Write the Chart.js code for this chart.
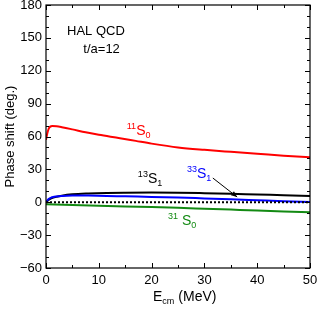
<!DOCTYPE html>
<html>
<head>
<meta charset="utf-8">
<script src="https://cdn.jsdelivr.net/npm/chart.js@4/dist/chart.umd.min.js"></script>
<style>
html,body{margin:0;padding:0;background:#fff;}
canvas{display:block;}
</style>
</head>
<body>
<canvas id="c" width="322" height="312"></canvas>
<script>
// ---- data ----
const energy11S0 = [0, 0.25, 0.5, 0.8, 1.2, 2, 3, 5, 7.5, 10, 14, 17, 20, 25, 30, 35, 40, 45, 50];
const phase11S0  = [57, 63, 67, 69, 69.5, 69.3, 68.5, 66.5, 63.8, 61.5, 58.5, 56, 53.5, 50, 47.8, 46, 44.3, 42.5, 41];

const energyS1 = [0, 0.5, 1, 2, 3, 5, 8, 11.5, 15, 20, 25, 30, 35, 40, 45, 50];
const phase13S1 = [0, 2.2, 3.5, 5, 6, 7.2, 8, 8.5, 8.7, 8.8, 8.7, 8.3, 7.8, 7.1, 6.5, 5.8];
const phase33S1 = [0, 3, 4.3, 5.3, 5.8, 6.2, 6.1, 5.8, 5.4, 4.9, 4.3, 3.5, 2.7, 1.8, 0.9, 0.2];

const energy31S0 = [0, 5, 10, 15, 20, 25, 30, 35, 40, 45, 50];
const phase31S0  = [-1.8, -2.4, -3.1, -3.8, -4.4, -5.1, -5.9, -6.7, -7.5, -8.4, -9.2];

const zeroLineX = [0, 50];
const zeroLineY = [0, 0];

const xTicks = [0, 10, 20, 30, 40, 50];
const yTicks = [-60, -30, 0, 30, 60, 90, 120, 150, 180];

const FONT = "'Liberation Sans', Arial, Helvetica, sans-serif";

function pts(xs, ys){ return xs.map((x,i)=>({x:x, y:ys[i]})); }

function richText(ctx, x, y, parts){
  let cx = x;
  parts.forEach(p=>{
    ctx.font = p.size + 'px ' + FONT;
    ctx.fillText(p.t, cx, y + (p.dy||0));
    cx += ctx.measureText(p.t).width + (p.gap||0);
  });
}

const decor = {
  id:'decor',
  afterDatasetsDraw(chart){
    const ctx = chart.ctx, a = chart.chartArea;
    const xs = chart.scales.x, ys = chart.scales.y;
    ctx.save();
    // frame
    ctx.strokeStyle = '#000'; ctx.lineWidth = 1.2;
    ctx.strokeRect(a.left, a.top, a.right - a.left, a.bottom - a.top);
    // ticks (inward, all four sides)
    ctx.lineWidth = 1;
    for(let v=0; v<=50; v+=5){
      const px = Math.round(xs.getPixelForValue(v)) + 0.5;
      const len = (v % 10 === 0) ? 5 : 3;
      ctx.beginPath();
      ctx.moveTo(px, a.bottom); ctx.lineTo(px, a.bottom - len);
      ctx.moveTo(px, a.top); ctx.lineTo(px, a.top + len);
      ctx.stroke();
    }
    for(let v=-60; v<=180; v+=10){
      const py = Math.round(ys.getPixelForValue(v)) + 0.5;
      const len = (v % 30 === 0) ? 5 : 3;
      ctx.beginPath();
      ctx.moveTo(a.left, py); ctx.lineTo(a.left + len, py);
      ctx.moveTo(a.right, py); ctx.lineTo(a.right - len, py);
      ctx.stroke();
    }
    ctx.fillStyle = '#000';
    ctx.textBaseline = 'alphabetic';
    ctx.textAlign = 'left';
    const X = v => xs.getPixelForValue(v), Y = v => ys.getPixelForValue(v);
    // title texts
    ctx.font = '13px ' + FONT;
    ctx.fillText('HAL QCD', X(3.98), Y(152.2));
    ctx.fillText('t/a=12', X(7.07), Y(135.9));
    // curve labels
    ctx.fillStyle = '#ff0000';
    richText(ctx, X(15.3), Y(61.3), [{t:'11', size:9, dy:-6},{t:'S', size:14},{t:'0', size:9, dy:3}]);
    ctx.fillStyle = '#000';
    richText(ctx, X(17.4), Y(17.5), [{t:'13', size:9, dy:-6},{t:'S', size:14},{t:'1', size:9, dy:3}]);
    ctx.fillStyle = '#0000ff';
    richText(ctx, X(26.7), Y(22.1), [{t:'33', size:9, dy:-6},{t:'S', size:14},{t:'1', size:9, dy:3}]);
    ctx.fillStyle = '#138a13';
    richText(ctx, X(23.1), Y(-20.8), [{t:'31', size:9, dy:-6, gap:4},{t:'S', size:14},{t:'0', size:9, dy:3}]);
    // arrow
    const x1 = X(31.6), y1 = Y(22.1), x2 = X(36.2), y2 = Y(4.8);
    ctx.strokeStyle = '#000'; ctx.lineWidth = 1;
    ctx.beginPath(); ctx.moveTo(x1, y1); ctx.lineTo(x2, y2); ctx.stroke();
    const ang = Math.atan2(y2 - y1, x2 - x1);
    ctx.fillStyle = '#000';
    ctx.beginPath();
    ctx.moveTo(x2, y2);
    ctx.lineTo(x2 - 6*Math.cos(ang) + 2.5*Math.sin(ang), y2 - 6*Math.sin(ang) - 2.5*Math.cos(ang));
    ctx.lineTo(x2 - 6*Math.cos(ang) - 2.5*Math.sin(ang), y2 - 6*Math.sin(ang) + 2.5*Math.cos(ang));
    ctx.closePath(); ctx.fill();
    // axis titles
    ctx.fillStyle = '#000';
    ctx.save();
    ctx.translate(14, (a.top + a.bottom) / 2);
    ctx.rotate(-Math.PI/2);
    ctx.textAlign = 'center';
    ctx.font = '13px ' + FONT;
    ctx.fillText('Phase shift (deg.)', 0, 0);
    ctx.restore();
    ctx.textAlign = 'left';
    richText(ctx, 153, 301, [{t:'E', size:14},{t:'cm', size:9, dy:3, gap:4},{t:'(MeV)', size:14}]);
    ctx.restore();
  }
};

const lineDS = (label, data, color, width, extra) => Object.assign({
  label, data, borderColor: color, backgroundColor: color, borderWidth: width,
  showLine: true, pointRadius: 0, fill: false, cubicInterpolationMode: 'monotone'
}, extra || {});

new Chart(document.getElementById('c'), {
  type: 'scatter',
  data: {
    datasets: [
      lineDS('zero', pts(zeroLineX, zeroLineY), '#000', 2, {borderDash:[2,2]}),
      lineDS('31S0', pts(energy31S0, phase31S0), '#138a13', 2),
      lineDS('33S1', pts(energyS1, phase33S1), '#0000ff', 2),
      lineDS('13S1', pts(energyS1, phase13S1), '#000', 2),
      lineDS('11S0', pts(energy11S0, phase11S0), '#ff0000', 2),
    ]
  },
  options: {
    responsive: false,
    animation: false,
    devicePixelRatio: 1,
    layout: { padding: { left: 0, top: 5, right: 12, bottom: 0 } },
    plugins: { legend: { display: false }, tooltip: { enabled: false } },
    scales: {
      x: {
        type: 'linear', min: 0, max: 50,
        afterBuildTicks: s => { s.ticks = xTicks.map(v => ({value: v})); },
        afterFit: s => { s.height = 44; s.paddingLeft = 0; s.paddingRight = 0; },
        grid: { display: false, drawTicks: false },
        border: { display: false },
        ticks: { padding: 5, color: '#000', font: { family: FONT, size: 13 }, maxRotation: 0 }
      },
      y: {
        type: 'linear', min: -60, max: 180,
        afterBuildTicks: s => { s.ticks = yTicks.map(v => ({value: v})); },
        afterFit: s => { s.width = 46; s.paddingTop = 0; s.paddingBottom = 0; },
        grid: { display: false, drawTicks: false },
        border: { display: false },
        ticks: { padding: 4, color: '#000', font: { family: FONT, size: 13 },
                 callback: v => String(v).replace('-', '\u2212') }
      }
    }
  },
  plugins: [decor]
});
</script>
</body>
</html>
